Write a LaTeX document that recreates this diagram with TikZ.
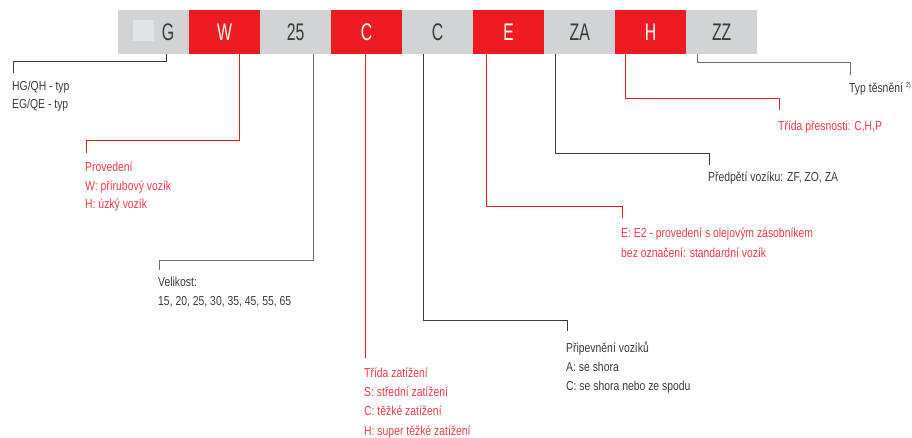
\documentclass[tikz,border=0pt]{standalone}
\usepackage{fontspec}
\setmainfont{Liberation Sans}[FakeStretch=0.8]
\newfontfamily\boxfont{Liberation Sans}[FakeStretch=0.66]
\definecolor{boxgrey}{HTML}{D1D3D4}
\definecolor{boxred}{HTML}{ED1C24}
\definecolor{txtgrey}{HTML}{3A3A3A}
\definecolor{txtred}{HTML}{EF3B44}
\definecolor{lngrey}{HTML}{3C3C3C}
\definecolor{lngreyl}{HTML}{6E6E6E}
\definecolor{sqgrey}{HTML}{E2E3E5}
\tikzset{
  cell/.style={minimum width=71pt, minimum height=44pt, inner sep=0pt, anchor=north west, font=\boxfont\fontsize{24}{24}\selectfont},
  greycell/.style={cell, fill=boxgrey, text=txtgrey},
  redcell/.style={cell, fill=boxred, text=white},
  lbl/.style={anchor=base west, inner sep=0pt, align=left, font=\fontsize{13}{18.5}\selectfont},
  greylbl/.style={lbl, text=txtgrey},
  redlbl/.style={lbl, text=txtred},
  gline/.style={draw=lngrey, line width=1pt},
  glinel/.style={draw=lngreyl, line width=1pt},
  rline/.style={draw=boxred, line width=1pt},
}
\begin{document}
\begin{tikzpicture}[x=1pt, y=-1pt]
\useasboundingbox (0,0) rectangle (912,438);
% boxes
\node[greycell] (bG) at (118,10) {};
\node[font=\boxfont\fontsize{24}{24}\selectfont, text=txtgrey, anchor=center, inner sep=0pt] (tG) at (168,32) {G};
\fill[sqgrey] (133,20) rectangle (154,41);
\node[redcell]  (bW)  at (189,10) {W};
\node[greycell] (b25) at (260,10) {25};
\node[redcell]  (bC1) at (331,10) {C};
\node[greycell] (bC2) at (402,10) {C};
\node[redcell]  (bE)  at (473,10) {E};
\node[greycell] (bZA) at (544,10) {ZA};
\node[redcell]  (bH)  at (615,10) {H};
\node[greycell] (bZZ) at (686,10) {ZZ};
% labels (anchor = baseline of last line)
\node[greylbl, font=\fontsize{13}{18}\selectfont] (lG) at (12,109) {HG/QH - typ\\EG/QE - typ};
\node[redlbl] (lW) at (85,209) {Provedení\\W: přírubový vozík\\H: úzký vozík};
\node[greylbl] (l25) at (158,305) {Velikost:\\15, 20, 25, 30, 35, 45, 55, 65};
\node[redlbl, font=\fontsize{13}{19.3}\selectfont] (lC1) at (364,435) {Třída zatížení\\S: střední zatížení\\C: těžké zatížení\\H: super těžké zatížení};
\node[greylbl, font=\fontsize{13}{19}\selectfont] (lC2) at (566,390) {Připevnění vozíků\\A: se shora\\C: se shora nebo ze spodu};
\node[redlbl, font=\fontsize{13}{20}\selectfont] (lE) at (621,258) {E: E2 - provedení s olejovým zásobníkem\\bez označení: standardní vozík};
\node[greylbl] (lZA) at (708,182) {Předpětí vozíku: ZF, ZO, ZA};
\node[redlbl] (lH) at (778,131) {Třída přesnosti: C,H,P};
\node[greylbl] (lZZ) at (849,93) {Typ těsnění \raisebox{5pt}{\fontsize{7}{7}\selectfont 2)}};
% connector corner coordinates
\coordinate (cG) at (13,73);
\coordinate (cW) at (86,153);
\coordinate (c25) at (159,270);
\coordinate (cC2) at (567,331);
\coordinate (cE) at (622,218);
\coordinate (cZA) at (709,165);
\coordinate (cH) at (779,110);
\coordinate (cZZ) at (850,75);
% connectors
\draw[gline] (bG.south west) ++(48.5,0) |- (13,62) -- (cG);
\draw[rline] (bW.south) ++(15,0) |- (86,141) -- (cW);
\draw[glinel] (b25.south) ++(17.5,0) |- (159,260) -- (c25);
\draw[rline] (bC1.south) ++(-1,0) -- ++(0,304);
\draw[gline] (bC2.south) ++(-14,0) |- (567,320) -- (cC2);
\draw[rline] (bE.south) ++(-22,0) |- (622,207) -- (cE);
\draw[gline] (bZA.south) ++(-24.5,0) |- (709,154) -- (cZA);
\draw[rline] (bH.south) ++(-25.5,0) |- (779,99) -- (cH);
\draw[glinel] (bZZ.south) ++(-24.5,0) |- (850,63) -- (cZZ);
\end{tikzpicture}
\end{document}
